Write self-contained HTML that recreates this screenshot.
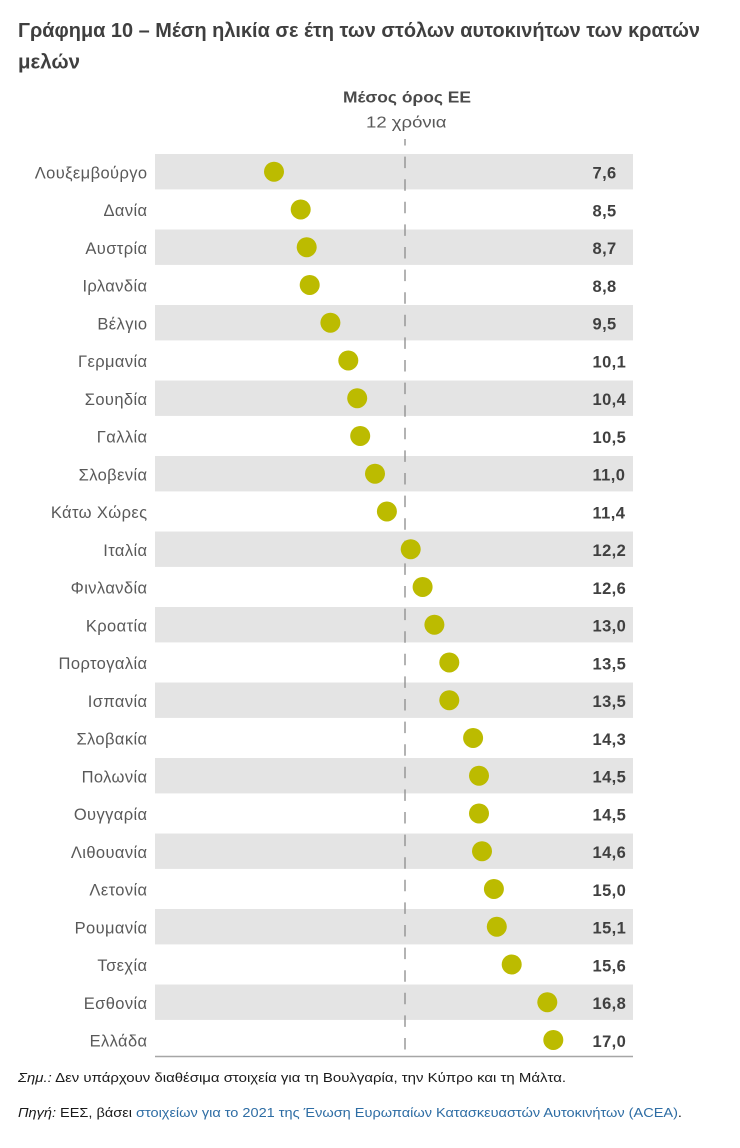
<!DOCTYPE html>
<html>
<head>
<meta charset="utf-8">
<style>
  html,body{margin:0;padding:0;background:#fff;}
  svg{display:block;}
  .lab{font-family:"Liberation Sans","DejaVu Sans",sans-serif;font-size:16.5px;fill:#595959;letter-spacing:0.4px;}
  .val{font-family:"Liberation Sans","DejaVu Sans",sans-serif;font-size:16.5px;font-weight:bold;fill:#404040;letter-spacing:0.4px;}
</style>
</head>
<body>
<svg width="740" height="1148" viewBox="0 0 740 1148" xmlns="http://www.w3.org/2000/svg">
  <rect width="740" height="1148" fill="#fff"/>
  <!-- Title -->
  <text x="18" y="37" font-family="Liberation Sans, DejaVu Sans, sans-serif" font-size="20" font-weight="bold" fill="#3f3f3f" textLength="682" lengthAdjust="spacingAndGlyphs">Γράφημα 10 – Μέση ηλικία σε έτη των στόλων αυτοκινήτων των κρατών</text>
  <text x="18" y="68.5" font-family="Liberation Sans, DejaVu Sans, sans-serif" font-size="20" font-weight="bold" fill="#3f3f3f" textLength="62" lengthAdjust="spacingAndGlyphs">μελών</text>

  <!-- Header -->
  <text x="343" y="102.7" font-family="Liberation Sans, DejaVu Sans, sans-serif" font-size="16" font-weight="bold" fill="#4a4a4a" textLength="128" lengthAdjust="spacingAndGlyphs">Μέσος όρος ΕΕ</text>
  <text x="366" y="127.3" font-family="Liberation Sans, DejaVu Sans, sans-serif" font-size="16" fill="#595959" textLength="80.5" lengthAdjust="spacingAndGlyphs">12 χρόνια</text>

  <!-- Gray bands (even rows) -->
  <g fill="#e4e4e4">
    <rect x="155" y="154.0" width="478" height="35.4"/>
    <rect x="155" y="229.5" width="478" height="35.4"/>
    <rect x="155" y="305.0" width="478" height="35.4"/>
    <rect x="155" y="380.5" width="478" height="35.4"/>
    <rect x="155" y="456.0" width="478" height="35.4"/>
    <rect x="155" y="531.5" width="478" height="35.4"/>
    <rect x="155" y="607.0" width="478" height="35.4"/>
    <rect x="155" y="682.5" width="478" height="35.4"/>
    <rect x="155" y="758.0" width="478" height="35.4"/>
    <rect x="155" y="833.5" width="478" height="35.4"/>
    <rect x="155" y="909.0" width="478" height="35.4"/>
    <rect x="155" y="984.5" width="478" height="35.4"/>
  </g>

  <!-- Dashed average line -->
  <line x1="405" y1="139" x2="405" y2="1056" stroke="#8a8a8a" stroke-width="1.3" stroke-dasharray="11.5 11.1" stroke-dashoffset="5"/>

  <!-- Bottom axis line -->
  <line x1="155" y1="1056.5" x2="633" y2="1056.5" stroke="#a6a6a6" stroke-width="1.6"/>

  <!-- Dots -->
  <g fill="#bcbb00">
    <circle cx="274.0" cy="171.7" r="10"/>
    <circle cx="300.7" cy="209.45" r="10"/>
    <circle cx="306.7" cy="247.2" r="10"/>
    <circle cx="309.7" cy="284.95" r="10"/>
    <circle cx="330.4" cy="322.7" r="10"/>
    <circle cx="348.3" cy="360.45" r="10"/>
    <circle cx="357.2" cy="398.2" r="10"/>
    <circle cx="360.2" cy="435.95" r="10"/>
    <circle cx="375.0" cy="473.7" r="10"/>
    <circle cx="386.9" cy="511.45" r="10"/>
    <circle cx="410.7" cy="549.2" r="10"/>
    <circle cx="422.6" cy="586.95" r="10"/>
    <circle cx="434.4" cy="624.7" r="10"/>
    <circle cx="449.3" cy="662.45" r="10"/>
    <circle cx="449.3" cy="700.2" r="10"/>
    <circle cx="473.1" cy="737.95" r="10"/>
    <circle cx="479.0" cy="775.7" r="10"/>
    <circle cx="479.0" cy="813.45" r="10"/>
    <circle cx="482.0" cy="851.2" r="10"/>
    <circle cx="493.9" cy="888.95" r="10"/>
    <circle cx="496.8" cy="926.7" r="10"/>
    <circle cx="511.7" cy="964.45" r="10"/>
    <circle cx="547.3" cy="1002.2" r="10"/>
    <circle cx="553.3" cy="1039.95" r="10"/>
  </g>

  <!-- Country labels -->
  <g class="lab" text-anchor="end">
    <text x="147.5" y="178.3">Λουξεμβούργο</text>
    <text x="147.5" y="216.05">Δανία</text>
    <text x="147.5" y="253.8">Αυστρία</text>
    <text x="147.5" y="291.55">Ιρλανδία</text>
    <text x="147.5" y="329.3">Βέλγιο</text>
    <text x="147.5" y="367.05">Γερμανία</text>
    <text x="147.5" y="404.8">Σουηδία</text>
    <text x="147.5" y="442.55">Γαλλία</text>
    <text x="147.5" y="480.3">Σλοβενία</text>
    <text x="147.5" y="518.05">Κάτω Χώρες</text>
    <text x="147.5" y="555.8">Ιταλία</text>
    <text x="147.5" y="593.55">Φινλανδία</text>
    <text x="147.5" y="631.3">Κροατία</text>
    <text x="147.5" y="669.05">Πορτογαλία</text>
    <text x="147.5" y="706.8">Ισπανία</text>
    <text x="147.5" y="744.55">Σλοβακία</text>
    <text x="147.5" y="782.3">Πολωνία</text>
    <text x="147.5" y="820.05">Ουγγαρία</text>
    <text x="147.5" y="857.8">Λιθουανία</text>
    <text x="147.5" y="895.55">Λετονία</text>
    <text x="147.5" y="933.3">Ρουμανία</text>
    <text x="147.5" y="971.05">Τσεχία</text>
    <text x="147.5" y="1008.8">Εσθονία</text>
    <text x="147.5" y="1046.55">Ελλάδα</text>
  </g>

  <!-- Values -->
  <g class="val">
    <text x="592.5" y="178.6">7,6</text>
    <text x="592.5" y="216.35">8,5</text>
    <text x="592.5" y="254.1">8,7</text>
    <text x="592.5" y="291.85">8,8</text>
    <text x="592.5" y="329.6">9,5</text>
    <text x="592.5" y="367.35">10,1</text>
    <text x="592.5" y="405.1">10,4</text>
    <text x="592.5" y="442.85">10,5</text>
    <text x="592.5" y="480.6">11,0</text>
    <text x="592.5" y="518.35">11,4</text>
    <text x="592.5" y="556.1">12,2</text>
    <text x="592.5" y="593.85">12,6</text>
    <text x="592.5" y="631.6">13,0</text>
    <text x="592.5" y="669.35">13,5</text>
    <text x="592.5" y="707.1">13,5</text>
    <text x="592.5" y="744.85">14,3</text>
    <text x="592.5" y="782.6">14,5</text>
    <text x="592.5" y="820.35">14,5</text>
    <text x="592.5" y="858.1">14,6</text>
    <text x="592.5" y="895.85">15,0</text>
    <text x="592.5" y="933.6">15,1</text>
    <text x="592.5" y="971.35">15,6</text>
    <text x="592.5" y="1009.1">16,8</text>
    <text x="592.5" y="1046.85">17,0</text>
  </g>

  <!-- Footnotes -->
  <text x="18" y="1082" font-family="Liberation Sans, DejaVu Sans, sans-serif" font-size="13" fill="#1a1a1a" textLength="548" lengthAdjust="spacingAndGlyphs"><tspan font-style="italic">Σημ.:</tspan> Δεν υπάρχουν διαθέσιμα στοιχεία για τη Βουλγαρία, την Κύπρο και τη Μάλτα.</text>
  <text x="18" y="1117" font-family="Liberation Sans, DejaVu Sans, sans-serif" font-size="13" fill="#1a1a1a" textLength="664" lengthAdjust="spacingAndGlyphs"><tspan font-style="italic">Πηγή:</tspan> ΕΕΣ, βάσει <tspan fill="#2e6da4">στοιχείων για το 2021 της Ένωση Ευρωπαίων Κατασκευαστών Αυτοκινήτων (ACEA)</tspan>.</text>
</svg>
</body>
</html>
